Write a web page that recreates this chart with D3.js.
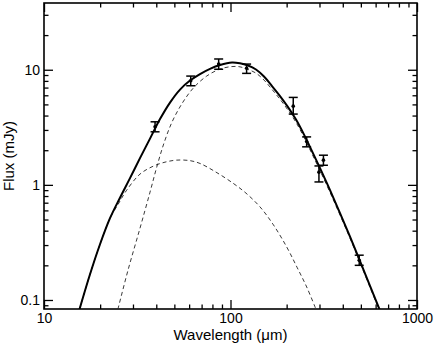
<!DOCTYPE html>
<html>
<head>
<meta charset="utf-8">
<script src="https://cdn.jsdelivr.net/npm/d3@7"></script>
<style>
  body { margin: 0; background: #fff; }
  text { font-family: "Liberation Sans", Arial, sans-serif; }
</style>
</head>
<body>
<div id="chart"></div>
<script>
// measured photometry (wavelength in micron, flux in mJy)
var obsWave = [39.4, 61.2, 86.4, 122, 217, 256, 298, 315, 490];
var obsFlux = [3.19, 8.02, 11.2, 10.3, 4.83, 2.38, 1.29, 1.64, 0.221];
var obsLow  = [2.89, 7.26, 10.1, 9.3, 4.12, 2.14, 1.06, 1.48, 0.200];
var obsHigh = [3.53, 8.81, 12.4, 11.2, 5.75, 2.61, 1.46, 1.81, 0.245];

// total fit (solid)
var totWave = [15.5, 17.65, 19.97, 22.59, 25.56, 28.92, 32.71, 37.02, 41.88, 47.38, 53.61, 60.66, 68.63, 77.65, 87.86, 101.9, 112.4, 124.1, 137.0, 151.2, 166.9, 184.3, 203.4, 224.5, 247.9, 273.5, 302, 341.7, 386.5, 437.3, 494.8, 559.8, 629.5];
var totFlux = [0.083, 0.1673, 0.3049, 0.5133, 0.7738, 1.144, 1.707, 2.522, 3.726, 5.186, 6.727, 8.056, 9.175, 10.18, 10.99, 11.55, 11.37, 10.88, 10.04, 8.73, 7.218, 5.906, 4.74, 3.69, 2.732, 1.963, 1.397, 0.899, 0.5673, 0.3544, 0.2171, 0.1329, 0.083];

// cold component (dashed)
var coldWave = [24.9, 28.2, 32.71, 37.02, 40.36, 43.99, 48.57, 54.95, 63.18, 74.56, 87.86, 101.9, 112.4, 124.1, 137.0, 151.2, 166.9, 184.3, 203.4, 224.5, 247.9, 273.5, 302, 341.7, 386.5, 437.3, 494.8, 559.8, 629.5];
var coldFlux = [0.083, 0.181, 0.420, 0.864, 1.454, 2.305, 3.51, 5.084, 6.934, 8.814, 10.14, 10.66, 10.60, 10.06, 9.34, 8.14, 6.75, 5.54, 4.46, 3.49, 2.59, 1.86, 1.33, 0.86, 0.547, 0.344, 0.211, 0.129, 0.0805];

// warm component (dashed)
var warmWave = [15.5, 17.65, 19.97, 22.59, 25.0, 27.76, 32.71, 38.56, 44.56, 51.4, 60.66, 68.6, 83.6, 103.5, 121.1, 143.9, 169, 200.1, 227.3, 256.2, 287.3];
var warmFlux = [0.083, 0.1673, 0.3049, 0.5133, 0.68, 0.90, 1.24, 1.454, 1.575, 1.64, 1.623, 1.535, 1.29, 1.03, 0.847, 0.644, 0.455, 0.289, 0.1925, 0.1297, 0.083];

var xMajor = [10, 100, 1000];
var yMajor = [0.1, 1, 10];

var width = 436, height = 347;
var margin = {top: 3, right: 19, bottom: 38, left: 44};
var w = width - margin.left - margin.right;
var h = height - margin.top - margin.bottom;

var svg = d3.select('#chart').append('svg')
  .attr('width', width)
  .attr('height', height);

var g = svg.append('g')
  .attr('transform', 'translate(' + margin.left + ',' + margin.top + ')');

var x = d3.scaleLog().domain([10, 1000]).range([0, w]);
var y = d3.scaleLog().domain([0.0835, 38]).range([h, 0]);

var xMinor = x.ticks().filter(function(d){ return xMajor.indexOf(d) < 0; });
var yMinor = y.ticks().filter(function(d){ return yMajor.indexOf(d) < 0; });

g.append('clipPath').attr('id', 'clip')
  .append('rect').attr('width', w).attr('height', h);

// assen met ticks aan alle vier de kanten
function styleAxis(sel){
  sel.select('.domain').remove();
  sel.selectAll('.tick line').attr('stroke', '#000').attr('stroke-width', 1.3);
  sel.selectAll('.tick text').attr('fill', '#000').style('font-size', '14px');
}

g.append('g').attr('transform', 'translate(0,' + h + ')')
  .call(d3.axisBottom(x).tickValues(xMajor).tickSize(-9).tickPadding(4).tickFormat(d3.format('d')))
  .call(styleAxis);
g.append('g').attr('transform', 'translate(0,' + h + ')')
  .call(d3.axisBottom(x).tickValues(xMinor).tickSize(-4.5).tickFormat(''))
  .call(styleAxis);
g.append('g')
  .call(d3.axisTop(x).tickValues(xMajor).tickSize(-9).tickFormat(''))
  .call(styleAxis);
g.append('g')
  .call(d3.axisTop(x).tickValues(xMinor).tickSize(-4.5).tickFormat(''))
  .call(styleAxis);

g.append('g')
  .call(d3.axisLeft(y).tickValues(yMajor).tickSize(-9).tickPadding(4).tickFormat(function(d){ return d < 1 ? '0.1' : d3.format('d')(d); }))
  .call(styleAxis);
g.append('g')
  .call(d3.axisLeft(y).tickValues(yMinor).tickSize(-4.5).tickFormat(''))
  .call(styleAxis);
g.append('g').attr('transform', 'translate(' + w + ',0)')
  .call(d3.axisRight(y).tickValues(yMajor).tickSize(-9).tickFormat(''))
  .call(styleAxis);
g.append('g').attr('transform', 'translate(' + w + ',0)')
  .call(d3.axisRight(y).tickValues(yMinor).tickSize(-4.5).tickFormat(''))
  .call(styleAxis);

g.append('rect')
  .attr('width', w).attr('height', h)
  .attr('fill', 'none').attr('stroke', '#000').attr('stroke-width', 1.6);

// curves
var line = d3.line()
  .x(function(d){ return x(d[0]); })
  .y(function(d){ return y(d[1]); })
  .curve(d3.curveCatmullRom.alpha(0.5));

var curves = g.append('g').attr('clip-path', 'url(#clip)');

curves.append('path')
  .datum(d3.zip(warmWave, warmFlux))
  .attr('d', line).attr('fill', 'none')
  .attr('stroke', '#222').attr('stroke-width', 0.9).attr('stroke-dasharray', '4,3');

curves.append('path')
  .datum(d3.zip(coldWave, coldFlux))
  .attr('d', line).attr('fill', 'none')
  .attr('stroke', '#222').attr('stroke-width', 0.9).attr('stroke-dasharray', '4,3');

curves.append('path')
  .datum(d3.zip(totWave, totFlux))
  .attr('d', line).attr('fill', 'none')
  .attr('stroke', '#000').attr('stroke-width', 2);

// error bars
var obs = d3.range(obsWave.length).map(function(i){
  return {w: obsWave[i], f: obsFlux[i], lo: obsLow[i], hi: obsHigh[i]};
});

var eb = g.selectAll('.err').data(obs).enter().append('g').attr('class', 'err');
eb.append('line')
  .attr('x1', function(d){ return x(d.w); }).attr('x2', function(d){ return x(d.w); })
  .attr('y1', function(d){ return y(d.lo); }).attr('y2', function(d){ return y(d.hi); })
  .attr('stroke', '#000').attr('stroke-width', 1.5);
eb.append('line')
  .attr('x1', function(d){ return x(d.w) - 4.5; }).attr('x2', function(d){ return x(d.w) + 4.5; })
  .attr('y1', function(d){ return y(d.lo); }).attr('y2', function(d){ return y(d.lo); })
  .attr('stroke', '#000').attr('stroke-width', 1.5);
eb.append('line')
  .attr('x1', function(d){ return x(d.w) - 4.5; }).attr('x2', function(d){ return x(d.w) + 4.5; })
  .attr('y1', function(d){ return y(d.hi); }).attr('y2', function(d){ return y(d.hi); })
  .attr('stroke', '#000').attr('stroke-width', 1.5);
eb.append('circle')
  .attr('cx', function(d){ return x(d.w); })
  .attr('cy', function(d){ return y(d.f); })
  .attr('r', 1.8).attr('fill', '#000');

// labels
svg.append('text')
  .attr('x', margin.left + w / 2).attr('y', 340)
  .attr('text-anchor', 'middle').style('font-size', '15px')
  .text('Wavelength (\u03bcm)');

svg.append('text')
  .attr('transform', 'translate(13.5,' + (margin.top + h / 2) + ') rotate(-90)')
  .attr('text-anchor', 'middle').style('font-size', '15px')
  .text('Flux (mJy)');
</script>
</body>
</html>
